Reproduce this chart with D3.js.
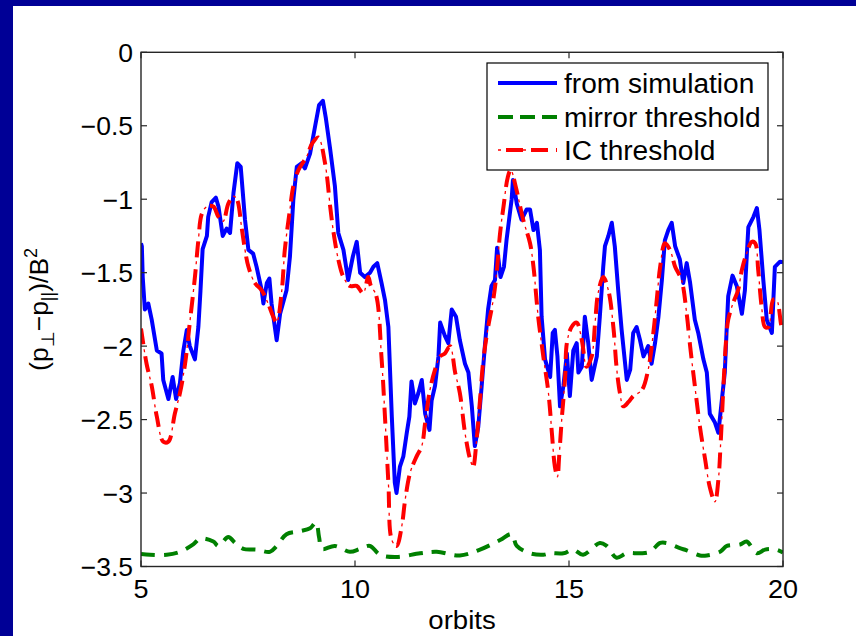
<!DOCTYPE html>
<html>
<head>
<meta charset="utf-8">
<script src="https://cdn.jsdelivr.net/npm/d3@7/dist/d3.min.js"></script>
<style>
html,body{margin:0;padding:0;background:#fff;}
svg{display:block;font-family:"Liberation Sans",Arial,Helvetica,sans-serif;}
</style>
</head>
<body>
<svg id="chart" width="856" height="636"></svg>
<script>
// ---------- data ----------
const xTicks = [5, 10, 15, 20];
const yTicks = [0, -0.5, -1, -1.5, -2, -2.5, -3, -3.5];
const seriesNames = ["from simulation", "mirror threshold", "IC threshold"];

const simX = [5.00,5.02,5.04,5.09,5.17,5.25,5.37,5.48,5.52,5.64,5.74,5.82,5.91,5.99,6.07,6.14,6.26,6.34,6.39,6.44,6.54,6.57,6.65,6.75,6.81,6.91,7.00,7.08,7.16,7.25,7.33,7.43,7.51,7.62,7.70,7.82,7.86,7.94,8.00,8.05,8.17,8.25,8.40,8.48,8.56,8.64,8.75,8.83,8.95,9.07,9.16,9.25,9.32,9.42,9.53,9.61,9.73,9.84,9.95,10.04,10.12,10.23,10.35,10.43,10.52,10.62,10.70,10.78,10.86,10.93,10.97,11.05,11.13,11.21,11.27,11.32,11.40,11.48,11.56,11.64,11.74,11.79,11.87,11.95,11.99,12.10,12.18,12.26,12.36,12.45,12.57,12.65,12.73,12.80,12.88,12.96,13.04,13.11,13.19,13.27,13.32,13.40,13.48,13.54,13.60,13.66,13.69,13.78,13.89,14.01,14.09,14.17,14.25,14.32,14.36,14.44,14.56,14.62,14.67,14.73,14.79,14.87,14.95,15.02,15.10,15.18,15.22,15.30,15.37,15.45,15.53,15.65,15.72,15.80,15.84,15.92,16.00,16.07,16.15,16.23,16.35,16.43,16.50,16.58,16.66,16.74,16.85,16.93,17.01,17.09,17.17,17.24,17.32,17.40,17.48,17.59,17.67,17.75,17.83,17.94,18.02,18.14,18.22,18.29,18.41,18.49,18.57,18.64,18.68,18.72,18.82,18.92,19.04,19.11,19.19,19.31,19.39,19.45,19.54,19.62,19.74,19.81,19.93,20.00];
const simY = [-1.30,-1.32,-1.53,-1.75,-1.71,-1.82,-2.03,-2.05,-2.23,-2.36,-2.21,-2.36,-2.25,-2.03,-1.89,-2.00,-2.09,-1.87,-1.62,-1.34,-1.25,-1.12,-1.02,-0.99,-1.05,-1.25,-1.20,-1.23,-0.96,-0.755,-0.78,-1.14,-1.345,-1.37,-1.46,-1.62,-1.71,-1.57,-1.54,-1.71,-1.96,-1.78,-1.62,-1.39,-1.00,-0.78,-0.755,-0.79,-0.69,-0.50,-0.36,-0.33,-0.45,-0.66,-0.91,-1.23,-1.345,-1.55,-1.39,-1.29,-1.50,-1.53,-1.50,-1.46,-1.435,-1.57,-1.685,-1.87,-2.48,-2.93,-3.00,-2.82,-2.75,-2.59,-2.48,-2.24,-2.39,-2.32,-2.23,-2.46,-2.57,-2.37,-2.27,-2.07,-1.84,-1.93,-1.98,-1.75,-1.80,-1.96,-2.12,-2.18,-2.41,-2.68,-2.55,-2.27,-1.98,-1.75,-1.59,-1.55,-1.33,-1.53,-1.46,-1.28,-1.14,-1.00,-0.87,-1.03,-1.14,-1.07,-1.07,-1.21,-1.16,-1.345,-1.80,-2.09,-2.21,-1.91,-1.89,-2.07,-2.41,-2.27,-2.05,-2.34,-2.03,-1.98,-2.18,-2.14,-1.80,-1.98,-2.23,-2.07,-1.80,-1.46,-1.32,-1.25,-1.16,-1.32,-1.62,-1.89,-2.23,-2.16,-1.91,-1.87,-1.96,-2.07,-2.00,-2.12,-1.98,-1.80,-1.55,-1.28,-1.21,-1.16,-1.32,-1.41,-1.57,-1.435,-1.57,-1.82,-1.91,-2.09,-2.18,-2.46,-2.52,-2.59,-2.37,-2.18,-1.91,-1.66,-1.52,-1.59,-1.78,-1.62,-1.19,-1.12,-1.06,-1.21,-1.55,-1.82,-1.91,-1.46,-1.425,-1.43];

const mirX = [5.00,5.21,5.60,5.91,6.22,6.38,6.69,6.81,7.04,7.20,7.39,7.70,8.01,8.17,8.40,8.71,8.95,9.09,9.16,9.23,9.53,9.88,10.12,10.35,10.58,10.97,11.52,11.91,12.45,12.92,13.39,13.66,13.78,14.09,14.40,14.56,14.87,15.10,15.33,15.72,15.88,16.11,16.35,16.66,16.89,17.13,17.28,17.59,17.75,18.06,18.22,18.53,18.69,19.00,19.15,19.39,19.58,19.85,20.00];
const mirY = [-3.415,-3.42,-3.42,-3.40,-3.35,-3.31,-3.33,-3.36,-3.30,-3.34,-3.38,-3.385,-3.40,-3.36,-3.28,-3.26,-3.24,-3.20,-3.30,-3.38,-3.36,-3.40,-3.38,-3.36,-3.42,-3.435,-3.41,-3.40,-3.425,-3.385,-3.32,-3.28,-3.36,-3.41,-3.42,-3.41,-3.41,-3.385,-3.42,-3.34,-3.36,-3.44,-3.41,-3.41,-3.40,-3.34,-3.34,-3.375,-3.39,-3.425,-3.425,-3.40,-3.36,-3.35,-3.33,-3.41,-3.385,-3.385,-3.405];

const icX = [5.00,5.13,5.25,5.37,5.52,5.64,5.79,5.91,6.03,6.14,6.26,6.34,6.42,6.54,6.69,6.81,6.92,7.04,7.16,7.24,7.35,7.43,7.51,7.66,7.82,7.97,8.09,8.17,8.29,8.36,8.48,8.56,8.68,8.87,9.00,9.14,9.30,9.42,9.49,9.61,9.73,9.88,10.04,10.19,10.31,10.37,10.49,10.62,10.70,10.78,10.86,10.97,11.09,11.17,11.29,11.44,11.56,11.64,11.75,11.87,11.99,12.10,12.22,12.34,12.45,12.57,12.69,12.76,12.84,12.92,13.00,13.11,13.23,13.31,13.39,13.47,13.57,13.64,13.76,13.93,14.09,14.17,14.28,14.40,14.52,14.60,14.67,14.73,14.77,14.83,14.91,14.95,15.06,15.18,15.30,15.41,15.53,15.61,15.68,15.80,15.92,16.04,16.11,16.19,16.27,16.39,16.50,16.70,16.85,16.97,17.05,17.13,17.24,17.36,17.48,17.63,17.75,17.83,17.94,18.06,18.18,18.29,18.41,18.49,18.54,18.60,18.67,18.72,18.83,18.95,19.04,19.15,19.27,19.35,19.42,19.50,19.58,19.66,19.77,19.85,19.97,20.00];
const icY = [-1.88,-2.12,-2.27,-2.48,-2.65,-2.65,-2.46,-2.32,-2.12,-1.84,-1.53,-1.28,-1.10,-1.05,-1.05,-1.12,-1.15,-1.03,-0.98,-1.00,-1.19,-1.345,-1.46,-1.57,-1.62,-1.71,-1.80,-1.84,-1.62,-1.345,-1.07,-0.91,-0.80,-0.71,-0.62,-0.58,-0.755,-1.05,-1.21,-1.41,-1.53,-1.59,-1.59,-1.64,-1.53,-1.59,-1.65,-2.08,-2.48,-2.93,-3.32,-3.36,-3.23,-3.05,-2.86,-2.75,-2.68,-2.52,-2.30,-2.16,-2.07,-2.05,-2.00,-2.18,-2.32,-2.59,-2.77,-2.82,-2.64,-2.37,-2.09,-1.87,-1.685,-1.50,-1.23,-1.05,-0.85,-0.80,-0.92,-1.14,-1.30,-1.46,-1.80,-2.07,-2.32,-2.59,-2.82,-2.89,-2.75,-2.50,-2.21,-1.98,-1.87,-1.84,-1.96,-2.14,-2.07,-1.84,-1.64,-1.53,-1.62,-1.88,-2.14,-2.32,-2.41,-2.38,-2.34,-2.30,-2.16,-1.91,-1.685,-1.46,-1.30,-1.345,-1.46,-1.55,-1.78,-2.00,-2.27,-2.55,-2.77,-2.96,-3.06,-2.91,-2.68,-2.32,-1.96,-1.82,-1.71,-1.62,-1.48,-1.37,-1.29,-1.30,-1.48,-1.73,-1.87,-1.87,-1.685,-1.685,-1.87,-1.88];

// ---------- layout ----------
const W = 856, H = 636;
const L = 141, R = 783, T = 52.3, B = 566.5;
const svg = d3.select("#chart");

svg.append("rect").attr("x",0).attr("y",0).attr("width",W).attr("height",H).attr("fill","#000096");
svg.append("rect").attr("x",13).attr("y",6).attr("width",W-13).attr("height",H-6).attr("fill","#ffffff");

const x = d3.scaleLinear().domain([5,20]).range([L,R]);
const y = d3.scaleLinear().domain([-3.5,0]).range([B,T]);

const fmt = v => (v < 0 ? "\u2212" : "") + Math.abs(v);

// scaled text helper (slightly wide glyphs, like the reference)
function label(g, tx, ty, txt, size, anchor, sx) {
  const gg = g.append("g").attr("transform", `translate(${tx},${ty}) scale(${sx||1},1)`);
  return gg.append("text").attr("x",0).attr("y",0)
    .attr("font-size", size).attr("text-anchor", anchor).attr("fill","#000").text(txt);
}

// clip
svg.append("clipPath").attr("id","clip").append("rect")
  .attr("x",L).attr("y",T).attr("width",R-L).attr("height",B-T);

const plot = svg.append("g").attr("clip-path","url(#clip)");

const lineLin = d3.line().x(d=>x(d[0])).y(d=>y(d[1]));
const lineSmooth = d3.line().x(d=>x(d[0])).y(d=>y(d[1])).curve(d3.curveCatmullRom.alpha(0.5));

const simData = simX.map((v,i)=>[v,simY[i]]);
const mirData = mirX.map((v,i)=>[v,mirY[i]]);
const icData = icX.map((v,i)=>[v,icY[i]]);

plot.append("path").datum(simData).attr("d",lineLin)
  .attr("fill","none").attr("stroke","#0000ff").attr("stroke-width",4).attr("stroke-linejoin","round");
plot.append("path").datum(mirData).attr("d",lineSmooth)
  .attr("fill","none").attr("stroke","#008000").attr("stroke-width",4).attr("stroke-dasharray","14 9");
plot.append("path").datum(icData).attr("d",lineSmooth)
  .attr("fill","none").attr("stroke","#ff0000").attr("stroke-width",4).attr("stroke-dasharray","16 12");
plot.append("path").datum(icData).attr("d",lineSmooth)
  .attr("fill","none").attr("stroke","#ff0000").attr("stroke-width",1.3)
  .attr("stroke-dasharray","3 25").attr("stroke-dashoffset",7);

// frame
const axG = svg.append("g");
axG.append("rect").attr("x",L).attr("y",T).attr("width",R-L).attr("height",B-T)
  .attr("fill","none").attr("stroke","#262626").attr("stroke-width",1.4);

const tl = 6;
yTicks.forEach(v=>{
  const yy = y(v);
  axG.append("line").attr("x1",L).attr("x2",L+tl).attr("y1",yy).attr("y2",yy).attr("stroke","#262626").attr("stroke-width",1.2);
  axG.append("line").attr("x1",R).attr("x2",R-tl).attr("y1",yy).attr("y2",yy).attr("stroke","#262626").attr("stroke-width",1.2);
  label(axG, L-8, yy+9.5, fmt(v), 25.5, "end", 1.04);
});
xTicks.forEach(v=>{
  const xx = x(v);
  axG.append("line").attr("x1",xx).attr("x2",xx).attr("y1",B).attr("y2",B-tl).attr("stroke","#262626").attr("stroke-width",1.2);
  axG.append("line").attr("x1",xx).attr("x2",xx).attr("y1",T).attr("y2",T+tl).attr("stroke","#262626").attr("stroke-width",1.2);
  label(axG, xx, 598, fmt(v), 26.5, "middle", 1.02);
});

// axis labels
label(svg, (L+R)/2, 629, "orbits", 26.5, "middle", 1.04);

const yl = svg.append("g").attr("transform", `translate(48,${(T+B)/2}) rotate(-90)`)
  .append("text").attr("text-anchor","middle").attr("font-size",26.5).attr("fill","#000");
yl.append("tspan").text("(p");
yl.append("tspan").attr("font-size",18).attr("dy",6).text("\u22A5");
yl.append("tspan").attr("dy",-6).text("\u2212p");
yl.append("tspan").attr("font-size",18).attr("dy",6).text("||");
yl.append("tspan").attr("dy",-6).text(")/B");
yl.append("tspan").attr("font-size",18).attr("dy",-11).text("2");

// legend
const lg = svg.append("g");
lg.append("rect").attr("x",487).attr("y",63).attr("width",281).attr("height",107)
  .attr("fill","#fff").attr("stroke","#000").attr("stroke-width",1.2);
const rows = [83, 117, 150];
const lx1 = 498, lx2 = 557;
lg.append("line").attr("x1",lx1).attr("x2",lx2).attr("y1",rows[0]).attr("y2",rows[0])
  .attr("stroke","#0000ff").attr("stroke-width",4);
lg.append("line").attr("x1",lx1).attr("x2",lx2).attr("y1",rows[1]).attr("y2",rows[1])
  .attr("stroke","#008000").attr("stroke-width",4).attr("stroke-dasharray","15 7");
lg.append("line").attr("x1",lx1+8).attr("x2",lx2).attr("y1",rows[2]).attr("y2",rows[2])
  .attr("stroke","#ff0000").attr("stroke-width",4).attr("stroke-dasharray","17 8");
lg.append("line").attr("x1",lx1).attr("x2",lx2).attr("y1",rows[2]).attr("y2",rows[2])
  .attr("stroke","#ff0000").attr("stroke-width",1.3).attr("stroke-dasharray","3 22 3 40");
seriesNames.forEach((n,i)=>{
  label(lg, 564, rows[i]+9.5, n, 27, "start", 1.04);
});
</script>
</body>
</html>
